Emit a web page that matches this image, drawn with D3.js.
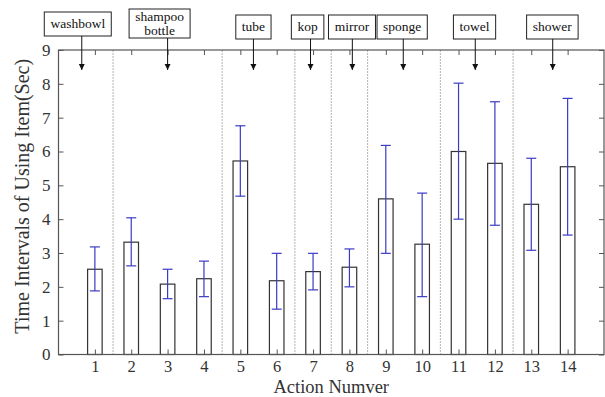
<!DOCTYPE html>
<html>
<head>
<meta charset="utf-8">
<script src="https://cdnjs.cloudflare.com/ajax/libs/d3/7.8.5/d3.min.js"></script>
<style>
  body { margin: 0; background: #fff; }
  svg text { font-family: 'Liberation Serif', 'Times New Roman', Times, 'DejaVu Serif', serif !important; }
</style>
</head>
<body>
<svg id="drawing_region"></svg>
<script>
// Data
const actions = [1, 2, 3, 4, 5, 6, 7, 8, 9, 10, 11, 12, 13, 14];
const meanTime = [2.52, 3.32, 2.08, 2.24, 5.72, 2.18, 2.45, 2.58, 4.60, 3.26, 6.00, 5.65, 4.44, 5.55];
const errHigh = [3.18, 4.04, 2.52, 2.76, 6.76, 2.99, 2.99, 3.12, 6.18, 4.77, 8.02, 7.47, 5.80, 7.57];
const errLow = [1.88, 2.62, 1.65, 1.71, 4.68, 1.34, 1.91, 2.00, 2.99, 1.71, 4.00, 3.82, 3.08, 3.53];
const separators = [1.5, 4.5, 6.5, 7.5, 8.5, 10.5, 12.5];
const itemLabels = [["washbowl"], ["shampoo", "bottle"], ["tube"], ["kop"], ["mirror"], ["sponge"], ["towel"], ["shower"]];
const arrowX = [0.64, 3.0, 5.36, 6.93, 8.08, 9.48, 11.46, 13.59];
const boxX = [0.53, 2.78, 5.36, 6.85, 8.07, 9.45, 11.44, 13.58];
const yTicks = [0, 1, 2, 3, 4, 5, 6, 7, 8, 9];

const width = 605, height = 397;
const margin = {top: 50, right: 1, bottom: 42.5, left: 58.5};
const serif = "'Liberation Serif', 'Times New Roman', Times, serif";

const svg = d3.select('#drawing_region')
    .attr('width', width)
    .attr('height', height)
    .attr('font-family', serif);

const chart = svg.append('g')
    .attr('transform', `translate(${margin.left}, ${margin.top})`);

const inner_width = width - margin.left - margin.right;
const inner_height = height - margin.top - margin.bottom;

const xscale = d3.scaleLinear().domain([0, 15]).range([0, inner_width]);
const yscale = d3.scaleLinear().domain([0, 9]).range([inner_height, 0]);

const axisColor = '#555';
const textColor = '#333';
const barW = xscale(0.4) - xscale(0);

// separators
chart.selectAll('.sep')
    .data(separators)
    .enter()
    .append('line')
    .attr('x1', d => xscale(d)).attr('x2', d => xscale(d))
    .attr('y1', yscale(0)).attr('y2', yscale(9))
    .attr('stroke', '#666')
    .attr('stroke-width', 1)
    .attr('stroke-dasharray', '1,2');

// bars
chart.selectAll('.bar')
    .data(actions)
    .enter()
    .append('rect')
    .attr('x', (d, i) => xscale(d) - barW / 2)
    .attr('y', (d, i) => yscale(meanTime[i]))
    .attr('width', barW)
    .attr('height', (d, i) => yscale(0) - yscale(meanTime[i]))
    .attr('fill', 'white')
    .attr('stroke', '#333')
    .attr('stroke-width', 1.2);

// error bars
const errColor = '#3b3bc4';
const capW = 5;
const eb = chart.selectAll('.err')
    .data(actions)
    .enter()
    .append('g')
    .attr('stroke', errColor)
    .attr('stroke-width', 1.2);
eb.append('line')
    .attr('x1', d => xscale(d)).attr('x2', d => xscale(d))
    .attr('y1', (d, i) => yscale(errLow[i])).attr('y2', (d, i) => yscale(errHigh[i]));
eb.append('line')
    .attr('x1', d => xscale(d) - capW).attr('x2', d => xscale(d) + capW)
    .attr('y1', (d, i) => yscale(errHigh[i])).attr('y2', (d, i) => yscale(errHigh[i]));
eb.append('line')
    .attr('x1', d => xscale(d) - capW).attr('x2', d => xscale(d) + capW)
    .attr('y1', (d, i) => yscale(errLow[i])).attr('y2', (d, i) => yscale(errLow[i]));

// axes: ticks inward on all four sides
const xaxis = d3.axisBottom(xscale).tickValues(actions).tickSize(-5).tickPadding(6);
const xaxisTop = d3.axisTop(xscale).tickValues(actions).tickSize(-5).tickFormat('');
const yaxis = d3.axisLeft(yscale).tickValues(yTicks).tickSize(-5).tickPadding(8);
const yaxisRight = d3.axisRight(yscale).tickValues(yTicks).tickSize(-5).tickFormat('');

function styleAxis(g, size) {
    g.attr('font-family', serif);
    g.select('.domain').remove();
    g.selectAll('line').attr('stroke', axisColor);
    g.selectAll('text')
        .attr('fill', textColor)
        .style('font-size', size);
}

chart.append('g').attr('transform', `translate(0, ${inner_height})`).call(xaxis).call(styleAxis, '16.5px');
chart.append('g').call(xaxisTop).call(styleAxis, '16px');
chart.append('g').call(yaxis).call(styleAxis, '17px');
chart.append('g').attr('transform', `translate(${inner_width}, 0)`).call(yaxisRight).call(styleAxis, '16px');

chart.append('rect')
    .attr('width', inner_width)
    .attr('height', inner_height)
    .attr('fill', 'none')
    .attr('stroke', axisColor)
    .attr('stroke-width', 1.2);

// axis titles
svg.append('text')
    .attr('x', margin.left + inner_width / 2)
    .attr('y', 392.5)
    .attr('text-anchor', 'middle')
    .attr('fill', textColor)
    .style('font-size', '18.5px')
    .text('Action Numver');

svg.append('text')
    .attr('transform', `translate(29, ${margin.top + inner_height / 2 - 6}) rotate(-90)`)
    .attr('text-anchor', 'middle')
    .attr('fill', textColor)
    .style('font-size', '20px')
    .text('Time Intervals of Using Item(Sec)');

// item annotations: boxes with arrows
const arrowTipY = 8.41;
svg.append('defs').append('marker')
    .attr('id', 'head')
    .attr('viewBox', '0 0 10 10')
    .attr('refX', 10).attr('refY', 5)
    .attr('markerWidth', 6).attr('markerHeight', 7)
    .attr('markerUnits', 'userSpaceOnUse')
    .attr('orient', 'auto')
    .append('path')
    .attr('d', 'M0,0L10,5L0,10Z')
    .attr('fill', '#111');

itemLabels.forEach((lines, i) => {
    const cx = margin.left + xscale(boxX[i]);
    const two = lines.length > 1;
    const top = i === 0 ? 12 : (two ? 9 : 15);
    const g = svg.append('g');
    const rect = g.append('rect');
    const boxH = two ? 29 : 24;
    lines.forEach((s, j) => {
        g.append('text')
            .attr('x', cx)
            .attr('y', top + (two ? 12 + j * 14 : 16))
            .attr('text-anchor', 'middle')
            .attr('fill', '#111')
            .style('font-size', '13.5px')
            .text(s);
    });
    let w = 0;
    g.selectAll('text').each(function () { w = Math.max(w, this.getBBox().width); });
    rect.attr('x', cx - w / 2 - 6).attr('y', top)
        .attr('width', w + 12).attr('height', boxH)
        .attr('fill', 'white')
        .attr('stroke', '#222')
        .attr('stroke-width', 1);
    const ax = margin.left + xscale(arrowX[i]);
    svg.append('line')
        .attr('x1', ax).attr('x2', ax)
        .attr('y1', top + boxH).attr('y2', margin.top + yscale(arrowTipY))
        .attr('stroke', '#111')
        .attr('stroke-width', 1)
        .attr('marker-end', 'url(#head)');
});
</script>
</body>
</html>
